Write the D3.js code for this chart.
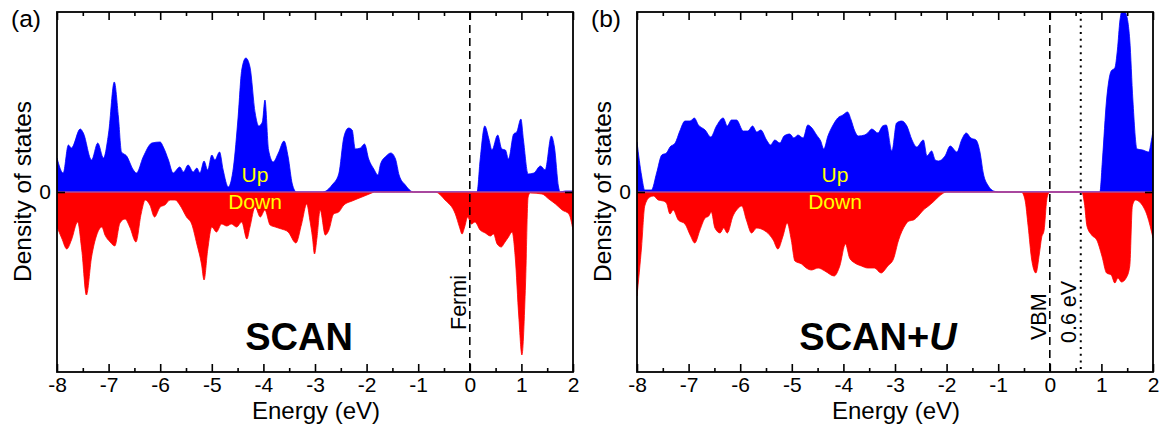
<!DOCTYPE html>
<html><head><meta charset="utf-8">
<script src="https://cdn.jsdelivr.net/npm/d3@7"></script>
<style>body{margin:0;background:#fff}svg{display:block;font-family:"Liberation Sans",Arial,Helvetica,sans-serif}</style>
</head><body>
<svg id="c" width="1161" height="424"></svg>
<script>
// Energy grid limits and tick labels
const xTicks = [-8,-7,-6,-5,-4,-3,-2,-1,0,1,2];
const xMinor = [-7.5,-6.5,-5.5,-4.5,-3.5,-2.5,-1.5,-0.5,0.5,1.5];
const panelLabels = ["(a)", "(b)"];
const methodLabels = ["SCAN", "SCAN+"];

// Panel (a) SCAN : [energy eV, DOS]
const scanUp = [[-8.00,3.4],[-7.88,1.9],[-7.78,4.7],[-7.72,4.4],[-7.55,6.3],[-7.49,5.9],[-7.33,3.2],[-7.21,4.9],[-7.10,3.4],[-7.00,5.9],[-6.89,11.0],[-6.81,7.5],[-6.75,4.0],[-6.65,3.6],[-6.52,2.2],[-6.46,1.9],[-6.33,3.5],[-6.16,4.9],[-6.00,5.0],[-5.94,4.5],[-5.84,3.2],[-5.75,1.9],[-5.62,2.5],[-5.55,2.0],[-5.46,2.7],[-5.36,2.0],[-5.29,2.4],[-5.23,1.9],[-5.15,3.1],[-5.08,2.2],[-5.00,3.7],[-4.94,3.2],[-4.85,4.0],[-4.78,2.2],[-4.68,0.5],[-4.58,2.5],[-4.49,7.5],[-4.42,12.2],[-4.34,13.4],[-4.26,12.5],[-4.16,7.9],[-4.09,6.6],[-4.02,7.0],[-3.97,9.2],[-3.90,4.2],[-3.81,3.0],[-3.71,3.9],[-3.60,5.1],[-3.52,3.5],[-3.44,0.8],[-3.36,0.0],[-2.85,0.0],[-2.67,0.7],[-2.54,1.8],[-2.44,5.5],[-2.35,6.4],[-2.28,6.2],[-2.22,4.3],[-2.12,4.4],[-2.04,4.8],[-1.96,3.3],[-1.86,2.3],[-1.78,1.7],[-1.73,2.8],[-1.62,3.6],[-1.53,3.9],[-1.44,3.3],[-1.37,1.7],[-1.25,0.7],[-1.09,0.0],[0.14,0.0],[0.20,3.2],[0.29,6.6],[0.37,5.3],[0.43,4.2],[0.54,5.7],[0.62,4.3],[0.69,4.2],[0.75,3.3],[0.85,5.8],[0.91,6.0],[0.99,7.3],[1.04,5.2],[1.13,1.8],[1.24,1.9],[1.37,2.6],[1.46,2.2],[1.58,5.6],[1.64,4.5],[1.72,0.5],[1.75,0.0],[1.85,0.1],[2.00,0.1]];
const scanDown = [[-8.00,-3.5],[-7.91,-4.6],[-7.81,-5.7],[-7.72,-4.8],[-7.60,-3.0],[-7.52,-5.8],[-7.43,-10.3],[-7.33,-6.5],[-7.23,-4.3],[-7.13,-3.5],[-7.07,-4.3],[-6.97,-5.0],[-6.88,-5.4],[-6.78,-3.1],[-6.68,-2.7],[-6.59,-3.5],[-6.47,-5.0],[-6.37,-2.2],[-6.29,-0.8],[-6.20,-1.3],[-6.11,-2.5],[-6.00,-1.5],[-5.91,-1.3],[-5.81,-0.8],[-5.71,-0.8],[-5.62,-1.3],[-5.49,-2.5],[-5.39,-3.2],[-5.29,-5.2],[-5.20,-7.2],[-5.15,-8.8],[-5.08,-5.8],[-5.00,-3.5],[-4.91,-4.0],[-4.81,-3.2],[-4.71,-3.4],[-4.62,-3.2],[-4.52,-3.5],[-4.42,-3.0],[-4.32,-4.7],[-4.26,-3.5],[-4.16,-1.5],[-4.06,-2.5],[-3.97,-1.8],[-3.87,-3.3],[-3.77,-3.5],[-3.65,-3.7],[-3.52,-4.0],[-3.37,-5.1],[-3.26,-3.2],[-3.16,-1.2],[-3.10,-2.8],[-3.05,-4.5],[-3.01,-6.2],[-2.96,-4.5],[-2.90,-1.8],[-2.80,-4.3],[-2.73,-3.8],[-2.64,-2.2],[-2.54,-2.0],[-2.44,-1.3],[-2.28,-0.9],[-2.09,-0.5],[-1.90,-0.1],[-1.85,0.0],[-0.67,0.0],[-0.48,-0.8],[-0.28,-2.2],[-0.20,-3.5],[-0.15,-4.2],[-0.10,-3.5],[-0.04,-2.5],[0.03,-3.2],[0.10,-3.0],[0.20,-3.8],[0.30,-4.1],[0.40,-4.4],[0.46,-4.2],[0.53,-5.2],[0.61,-5.5],[0.67,-5.1],[0.75,-4.5],[0.82,-4.0],[0.88,-6.5],[0.95,-12.5],[1.01,-16.3],[1.08,-9.2],[1.13,-0.5],[1.17,-0.1],[1.40,-0.2],[1.53,-0.7],[1.66,-1.2],[1.79,-1.8],[1.92,-2.2],[2.00,-3.8]];

// Panel (b) SCAN+U : [energy eV, DOS]
const scanUUp = [[-8.00,5.0],[-7.91,1.6],[-7.85,0.2],[-7.72,0.2],[-7.62,1.9],[-7.52,3.7],[-7.43,3.9],[-7.36,4.5],[-7.26,4.9],[-7.17,6.1],[-7.07,7.1],[-6.97,7.1],[-6.89,7.4],[-6.81,6.7],[-6.68,6.2],[-6.57,5.5],[-6.46,6.6],[-6.33,7.4],[-6.25,6.6],[-6.17,7.2],[-6.07,7.2],[-5.94,6.1],[-5.85,6.1],[-5.76,6.6],[-5.68,6.0],[-5.60,6.2],[-5.49,5.2],[-5.41,4.7],[-5.33,5.2],[-5.23,4.9],[-5.15,5.6],[-5.04,5.8],[-4.96,5.4],[-4.88,5.7],[-4.78,5.4],[-4.69,6.7],[-4.61,6.4],[-4.52,5.7],[-4.44,5.1],[-4.38,4.3],[-4.30,5.6],[-4.20,6.7],[-4.11,7.4],[-4.01,7.7],[-3.92,8.0],[-3.85,7.2],[-3.78,6.1],[-3.71,5.6],[-3.59,5.7],[-3.53,5.9],[-3.45,6.3],[-3.33,5.9],[-3.24,6.6],[-3.17,6.7],[-3.06,4.1],[-2.97,6.9],[-2.87,7.1],[-2.77,6.6],[-2.67,5.2],[-2.58,4.5],[-2.45,5.2],[-2.38,3.6],[-2.29,4.1],[-2.22,3.2],[-2.16,3.1],[-2.03,3.6],[-1.93,4.6],[-1.80,4.0],[-1.71,5.2],[-1.62,5.9],[-1.53,5.4],[-1.43,5.2],[-1.35,3.9],[-1.29,1.9],[-1.19,0.6],[-1.09,0.1],[-1.00,0.0],[0.97,0.0],[1.02,3.2],[1.10,9.2],[1.19,12.1],[1.26,12.4],[1.31,14.2],[1.36,17.2],[1.41,18.2],[1.47,17.9],[1.55,15.2],[1.61,9.2],[1.69,4.3],[1.80,4.2],[1.92,4.0],[1.96,4.9],[2.00,6.1]];
const scanUDown = [[-8.00,-10.4],[-7.91,-5.4],[-7.85,-1.4],[-7.75,-0.5],[-7.68,-0.4],[-7.59,-0.8],[-7.49,-0.9],[-7.43,-1.1],[-7.36,-2.2],[-7.30,-1.8],[-7.20,-2.8],[-7.07,-3.2],[-6.97,-4.3],[-6.88,-5.1],[-6.78,-3.8],[-6.68,-2.6],[-6.61,-2.4],[-6.56,-2.0],[-6.49,-3.6],[-6.39,-4.1],[-6.32,-3.6],[-6.25,-4.1],[-6.14,-2.4],[-6.07,-1.8],[-5.97,-1.4],[-5.88,-2.8],[-5.78,-4.1],[-5.68,-3.6],[-5.55,-3.8],[-5.43,-4.3],[-5.36,-4.8],[-5.27,-5.7],[-5.17,-4.4],[-5.09,-3.1],[-5.01,-4.8],[-4.94,-6.9],[-4.81,-7.2],[-4.72,-7.6],[-4.62,-7.8],[-4.49,-7.6],[-4.36,-7.9],[-4.18,-8.4],[-4.07,-7.4],[-3.96,-5.2],[-3.88,-6.6],[-3.78,-7.1],[-3.65,-7.4],[-3.53,-7.6],[-3.40,-7.6],[-3.27,-8.1],[-3.14,-7.4],[-3.03,-6.7],[-2.93,-4.8],[-2.80,-3.3],[-2.73,-2.9],[-2.64,-2.8],[-2.55,-2.4],[-2.45,-1.8],[-2.35,-1.4],[-2.26,-1.0],[-2.16,-0.5],[-2.06,-0.1],[-2.00,0.0],[-0.55,0.0],[-0.48,-0.8],[-0.42,-3.4],[-0.35,-6.8],[-0.27,-8.1],[-0.20,-6.1],[-0.16,-4.6],[-0.11,-3.8],[-0.06,-0.8],[-0.02,-0.1],[0.00,0.0],[0.62,0.0],[0.67,-1.1],[0.72,-3.4],[0.81,-4.3],[0.91,-4.8],[1.01,-6.4],[1.10,-8.1],[1.19,-8.3],[1.26,-9.1],[1.32,-8.6],[1.39,-9.0],[1.48,-8.6],[1.55,-7.4],[1.60,-1.4],[1.66,-0.8],[1.76,-1.1],[1.89,-2.4],[2.00,-4.6]];

// Reference lines per panel: [energy, label, style]
const linesA = [[0, "Fermi", "dash"]];
const linesB = [[0, "VBM", "dash"], [0.6, "0.6 eV", "dot"]];

const svg = d3.select("#c");
const PW = 516, PH = 360, TOP = 12;
const FONT = 21, TITLE = 24;

const panels = [
  {left:57, up:scanUp, down:scanDown, lines:linesA, label:panelLabels[0], method:methodLabels[0], italicU:false, methodX:242},
  {left:637, up:scanUUp, down:scanUDown, lines:linesB, label:panelLabels[1], method:methodLabels[1], italicU:true, methodX:241}
];

const x = d3.scaleLinear().domain([-8,2]).range([0,PW]);
const y = d3.scaleLinear().domain([-18,18]).range([PH,0]);

panels.forEach((p,i) => {
  const g = svg.append("g").attr("transform", `translate(${p.left},${TOP})`);
  const cid = "clip"+i;
  g.append("clipPath").attr("id",cid).append("rect").attr("width",PW).attr("height",PH);
  const pg = g.append("g").attr("clip-path",`url(#${cid})`);
  const area = d3.area().x(d=>x(d[0])).y0(y(0)).y1(d=>y(d[1])).curve(d3.curveMonotoneX);
  pg.append("path").datum(p.up).attr("d",area).attr("fill","#0000ff").attr("stroke","#0000ff").attr("stroke-width",0.8);
  pg.append("path").datum(p.down).attr("d",area).attr("fill","#ff0000").attr("stroke","#ff0000").attr("stroke-width",0.8);
  pg.append("line").attr("x1",0).attr("x2",PW).attr("y1",y(0)).attr("y2",y(0)).attr("stroke","#8c6ee0").attr("stroke-width",1);

  // Up / Down labels
  const cx = 198;
  g.append("text").attr("x",cx).attr("y",170).attr("text-anchor","middle").attr("fill","#ffff00").attr("font-size",FONT).text("Up");
  g.append("text").attr("x",cx).attr("y",196.5).attr("text-anchor","middle").attr("fill","#ffff00").attr("font-size",FONT).text("Down");

  // reference lines
  p.lines.forEach(l => {
    const lx = x(l[0]);
    g.append("line").attr("x1",lx).attr("x2",lx).attr("y1",0).attr("y2",PH)
      .attr("stroke","#000").attr("stroke-width", l[2]==="dash"?1.6:2)
      .attr("stroke-dasharray", l[2]==="dash" ? "8,5" : "2,4.7");
    const tx = l[2]==="dash" ? lx-4 : lx-5;
    const ty = l[1]==="0.6 eV" ? 331 : (l[1]==="VBM" ? 328 : 318);
    g.append("text").attr("transform",`translate(${tx},${ty}) rotate(-90)`)
      .attr("font-size",21.5).attr("fill","#000").text(l[1]);
  });

  // axes: bottom / top major and minor, inward ticks
  const fmt = d => String(d);
  const bMaj = d3.axisBottom(x).tickValues(xTicks).tickSizeInner(-8).tickSizeOuter(0).tickPadding(5.5).tickFormat(fmt);
  const bMin = d3.axisBottom(x).tickValues(xMinor).tickSizeInner(-4).tickSizeOuter(0).tickFormat("");
  const tMaj = d3.axisTop(x).tickValues(xTicks).tickSizeInner(-8).tickSizeOuter(0).tickFormat("");
  const tMin = d3.axisTop(x).tickValues(xMinor).tickSizeInner(-4).tickSizeOuter(0).tickFormat("");
  const ax = [
    g.append("g").attr("transform",`translate(0,${PH})`).call(bMaj),
    g.append("g").attr("transform",`translate(0,${PH})`).call(bMin),
    g.append("g").call(tMaj),
    g.append("g").call(tMin)
  ];
  const yL = d3.axisLeft(y).tickValues([0]).tickSizeInner(-8).tickSizeOuter(0).tickPadding(6).tickFormat(fmt);
  const yR = d3.axisRight(y).tickValues([0]).tickSizeInner(-8).tickSizeOuter(0).tickFormat("");
  ax.push(g.append("g").call(yL));
  ax.push(g.append("g").attr("transform",`translate(${PW},0)`).call(yR));
  ax.forEach(a => {
    a.select(".domain").remove();
    a.selectAll("line").attr("stroke","#000").attr("stroke-width",1.6);
    a.selectAll("text").attr("font-size",FONT).attr("fill","#000").attr("font-family",'"Liberation Sans",Arial,sans-serif');
  });

  // frame
  g.append("rect").attr("width",PW).attr("height",PH).attr("fill","none").attr("stroke","#000").attr("stroke-width",1.8);

  // axis titles
  g.append("text").attr("x",PW/2+1).attr("y",407).attr("text-anchor","middle").attr("font-size",TITLE).text("Energy (eV)");
  g.append("text").attr("transform",`translate(-26,${y(0)-0.5}) rotate(-90)`).attr("text-anchor","middle").attr("font-size",24.5).text("Density of states");

  // panel label
  svg.append("text").attr("x",p.left-46).attr("y",27).attr("font-size",24.5).text(p.label);

  // method label
  const mt = g.append("text").attr("x",p.methodX).attr("y",338).attr("text-anchor","middle")
    .attr("font-size",38).attr("font-weight","bold").attr("fill","#000");
  mt.append("tspan").text(p.method);
  if (p.italicU) mt.append("tspan").attr("font-style","italic").text("U");
});
</script>
</body></html>
